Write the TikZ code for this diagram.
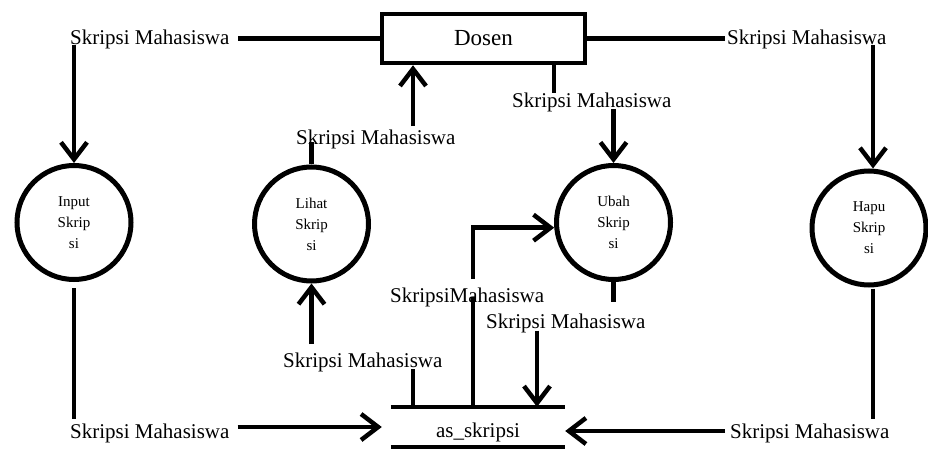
\documentclass[tikz,border=0pt]{standalone}
\usepackage{fontspec}
\setmainfont{Liberation Serif}
\usetikzlibrary{arrows.meta}
\begin{document}
\begin{tikzpicture}[x=1pt,y=-1pt,
  flow/.style={line width=4.5pt},
  arr/.style={flow,-{Straight Barb[length=17pt,width=26pt]}},
  proc/.style={circle,draw,line width=5pt,minimum size=114pt,inner sep=0pt,
    align=center,font=\fontsize{15}{21}\selectfont},
  lbl/.style={inner sep=0pt,anchor=base west,font=\fontsize{21}{25}\selectfont}]
\useasboundingbox (0,0) rectangle (928,454);

% external entity and data store
\node[draw,line width=4.5pt,minimum width=203pt,minimum height=49pt,inner sep=0pt,
  font=\fontsize{23}{27}\selectfont] (dosen) at (483.5,38.5) {Dosen};
\node[minimum width=174pt,minimum height=40pt,inner sep=0pt,text height=20pt,text depth=0pt,
  font=\fontsize{21}{25}\selectfont] (store) at (478,427) {as\_skripsi};
\draw[flow] (store.north west) -- (store.north east);
\draw[flow] (store.south west) -- (store.south east);

% processes
\node[proc] (input) at (74,222.5) {Input\\Skrip\\si};
\node[proc] (lihat) at (311.5,224) {Lihat\\Skrip\\si};
\node[proc] (ubah)  at (613.5,222.5) {Ubah\\Skrip\\si};
\node[proc] (hapus) at (869,228) {Hapu\\Skrip\\si};

% flow labels
\node[lbl] (tl) at (70,45)   {Skripsi Mahasiswa};
\node[lbl] (tr) at (727,45)  {Skripsi Mahasiswa};
\node[lbl] (lt) at (296,145) {Skripsi Mahasiswa};
\node[lbl] (du) at (512,108) {Skripsi Mahasiswa};
\node[lbl] (lb) at (283,367) {Skripsi Mahasiswa};
\node[lbl] (sm) at (390,302) {SkripsiMahasiswa};
\node[lbl] (ub) at (486,328) {Skripsi Mahasiswa};
\node[lbl] (bl) at (70,438)  {Skripsi Mahasiswa};
\node[lbl] (br) at (730,438) {Skripsi Mahasiswa};

% Dosen -> Input
\draw[flow] (dosen.west) -- ([xshift=8pt]tl.east |- dosen.west);
\draw[arr] (input.north |- tl.base) -- (input.north);

% Dosen -> Hapus
\draw[flow] (dosen.east) -- ([xshift=-2pt]tr.west |- dosen.east);
\draw[arr] ([xshift=4pt]hapus.north |- tr.base) -- ([xshift=4pt]hapus.north);

% Lihat -> Dosen
\draw[flow] (lihat.north) -- ([yshift=3pt]lihat.north |- lt.base);
\draw[arr] ([xshift=117pt,yshift=4pt]lt.north west) -- ([xshift=117pt]lt.north west |- dosen.south);

% Dosen -> Ubah
\draw[flow] ([xshift=174pt]dosen.south west) -- ([xshift=174pt]dosen.south west |- du.north);
\draw[arr] ([yshift=-1pt]ubah.north |- du.base) -- (ubah.north);

% Input -> data store
\draw[flow,shorten <=6pt,shorten >=4pt] (input.south) -- (input.south |- bl.north);
\draw[arr] ([xshift=8pt]bl.east |- store.west) -- ([xshift=-9pt]store.west);

% Hapus -> data store
\draw[flow,shorten <=1pt,shorten >=4pt] ([xshift=4pt]hapus.south) -- ([xshift=4pt]hapus.south |- br.north);
\draw[arr] ([xshift=-5pt,yshift=-4pt]br.west |- store.east) -- ([yshift=-4pt]store.east);

% data store -> Lihat
\draw[flow] ([xshift=130pt]lb.south west |- store.north) -- ([xshift=130pt,yshift=3pt]lb.south west);
\draw[arr] ([yshift=8pt]lihat.south |- lb.north) -- (lihat.south);

% data store -> Ubah
\coordinate (smx) at ([xshift=83pt]sm.base west);
\draw[flow] (smx |- store.north) -- ([yshift=5pt]smx);
\draw[arr] ([yshift=8pt]smx |- sm.north) |- (ubah.185);

% Ubah -> data store
\draw[flow] (ubah.south) -- ([yshift=11pt]ubah.south |- ub.north);
\draw[arr] ([xshift=51pt,yshift=2pt]ub.south west) -- ([xshift=51pt]ub.south west |- store.north);
\end{tikzpicture}
\end{document}
